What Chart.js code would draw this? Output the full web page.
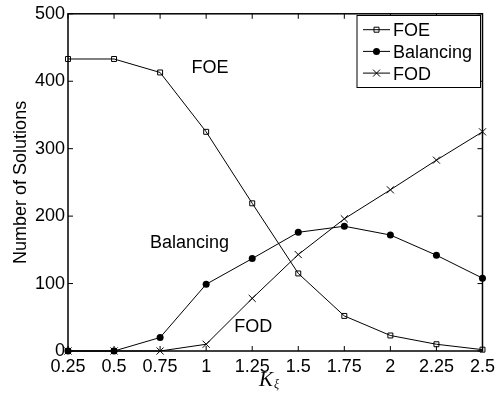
<!DOCTYPE html>
<html>
<head>
<meta charset="utf-8">
<script src="https://cdn.jsdelivr.net/npm/chart.js@4/dist/chart.umd.min.js"></script>
<style>
  html, body { margin: 0; padding: 0; background: #fff; }
  canvas { display: block; }
</style>
</head>
<body>
<canvas id="solutionsChart" width="500" height="393"></canvas>
<script>
// K_xi values along the x axis
var kLabels = ['0.25', '0.5', '0.75', '1', '1.25', '1.5', '1.75', '2', '2.25', '2.5'];
// number of solutions per series
var foeValues = [433, 433, 413, 325, 219, 115, 52, 23, 10, 2];
var balancingValues = [0, 0, 20, 99, 137, 176, 185, 172, 142, 108];
var fodValues = [0, 0, 0, 10, 78, 143, 196, 239, 283, 325];
var seriesNames = ['FOE', 'Balancing', 'FOD'];
var yMax = 500;
var yStep = 100;

var sans = '"Liberation Sans", Arial, Helvetica, sans-serif';
var serif = '"Liberation Serif", "Times New Roman", serif';

function drawMarker(ctx, kind, x, y) {
    ctx.beginPath();
    if (kind == 'rect') {
        ctx.rect(x - 2.5, y - 2.5, 5, 5);
        ctx.stroke();
    } else if (kind == 'circle') {
        ctx.arc(x, y, 3.5, 0, Math.PI * 2);
        ctx.fill();
    } else {
        ctx.moveTo(x - 3.5, y - 3.5); ctx.lineTo(x + 3.5, y + 3.5);
        ctx.moveTo(x - 3.5, y + 3.5); ctx.lineTo(x + 3.5, y - 3.5);
        ctx.stroke();
    }
}

var framePlugin = {
    id: 'frame',
    afterDraw: function(chart) {
        var ctx = chart.ctx;
        var a = chart.chartArea;
        var xs = chart.scales.x;
        var ys = chart.scales.y;
        ctx.save();
        ctx.strokeStyle = '#000';
        ctx.fillStyle = '#000';

        // box round the plot
        ctx.lineWidth = 1.5;
        ctx.strokeRect(a.left, a.top, a.right - a.left, a.bottom - a.top);

        // inward ticks on all four sides
        ctx.lineWidth = 1;
        ctx.beginPath();
        kLabels.forEach(function(l, i) {
            var px = xs.getPixelForValue(i);
            ctx.moveTo(px, a.bottom); ctx.lineTo(px, a.bottom - 5);
            ctx.moveTo(px, a.top); ctx.lineTo(px, a.top + 5);
        });
        ys.ticks.forEach(function(t) {
            var py = ys.getPixelForValue(t.value);
            ctx.moveTo(a.left, py); ctx.lineTo(a.left + 5, py);
            ctx.moveTo(a.right, py); ctx.lineTo(a.right - 5, py);
        });
        ctx.stroke();

        // labels next to the curves
        ctx.font = '18px ' + sans;
        ctx.textBaseline = 'alphabetic';
        ctx.textAlign = 'left';
        ctx.fillText('FOE', xs.getPixelForValue(2.68), ys.getPixelForValue(412));
        ctx.fillText('Balancing', xs.getPixelForValue(1.78), ys.getPixelForValue(152));
        ctx.fillText('FOD', xs.getPixelForValue(3.61), ys.getPixelForValue(28));

        // x axis title K_xi
        ctx.font = 'italic 21px ' + serif;
        ctx.fillText('K', 259, 386);
        var kw = ctx.measureText('K').width;
        ctx.font = 'italic 12px ' + serif;
        ctx.fillText('\u03be', 259 + kw + 1, 388);

        // legend
        var lx = 357, ly = 15.5, lw = 123.5, lh = 72;
        ctx.fillStyle = '#fff';
        ctx.fillRect(lx, ly, lw, lh);
        ctx.lineWidth = 1;
        ctx.strokeRect(lx, ly, lw, lh);
        ctx.fillStyle = '#000';
        ctx.font = '18px ' + sans;
        chart.data.datasets.forEach(function(ds, i) {
            var ry = 29.7 + i * 21.7;
            ctx.beginPath();
            ctx.moveTo(363, ry); ctx.lineTo(390, ry);
            ctx.stroke();
            drawMarker(ctx, ds.pointStyle, 376.5, ry);
            ctx.fillText(ds.label, 393, ry + 6.4);
        });
        ctx.restore();
    }
};

var chartContainer = document.getElementById('solutionsChart');
var solutionsChart = new Chart(chartContainer, {
    type: 'line',
    data: {
        labels: kLabels,
        datasets: [{
            label: seriesNames[0],
            data: foeValues,
            borderColor: '#000',
            backgroundColor: '#fff',
            borderWidth: 1,
            pointStyle: 'rect',
            pointRadius: 3.5,
            pointBorderWidth: 1,
            pointBorderColor: '#000',
            pointBackgroundColor: 'rgba(0,0,0,0)',
            clip: false,
            fill: false
        }, {
            label: seriesNames[1],
            data: balancingValues,
            borderColor: '#000',
            backgroundColor: '#000',
            borderWidth: 1,
            pointStyle: 'circle',
            pointRadius: 3.5,
            pointBorderWidth: 0,
            pointBackgroundColor: '#000',
            clip: false,
            fill: false
        }, {
            label: seriesNames[2],
            data: fodValues,
            borderColor: '#000',
            backgroundColor: '#000',
            borderWidth: 1,
            pointStyle: 'crossRot',
            pointRadius: 5,
            pointBorderWidth: 1,
            pointBorderColor: '#000',
            clip: false,
            fill: false
        }]
    },
    options: {
        responsive: false,
        animation: false,
        devicePixelRatio: 1,
        layout: { padding: { left: 0, top: 13, right: 16, bottom: 0 } },
        plugins: {
            legend: { display: false },
            tooltip: { enabled: false }
        },
        scales: {
            x: {
                grid: { display: false, drawTicks: false },
                border: { display: false },
                ticks: {
                    color: '#000',
                    font: { family: sans, size: 18 },
                    padding: 5,
                    maxRotation: 0,
                    autoSkip: false
                },
                afterFit: function(scale) { scale.height = 42; }
            },
            y: {
                min: 0,
                max: yMax,
                grid: { display: false, drawTicks: false },
                border: { display: false },
                ticks: {
                    stepSize: yStep,
                    color: '#000',
                    font: { family: sans, size: 18 },
                    padding: 3
                },
                title: {
                    display: true,
                    text: 'Number of Solutions',
                    color: '#000',
                    font: { family: sans, size: 18 },
                    padding: { top: 10, bottom: 0 }
                },
                afterFit: function(scale) { scale.width = 68; }
            }
        }
    },
    plugins: [framePlugin]
});
</script>
</body>
</html>
